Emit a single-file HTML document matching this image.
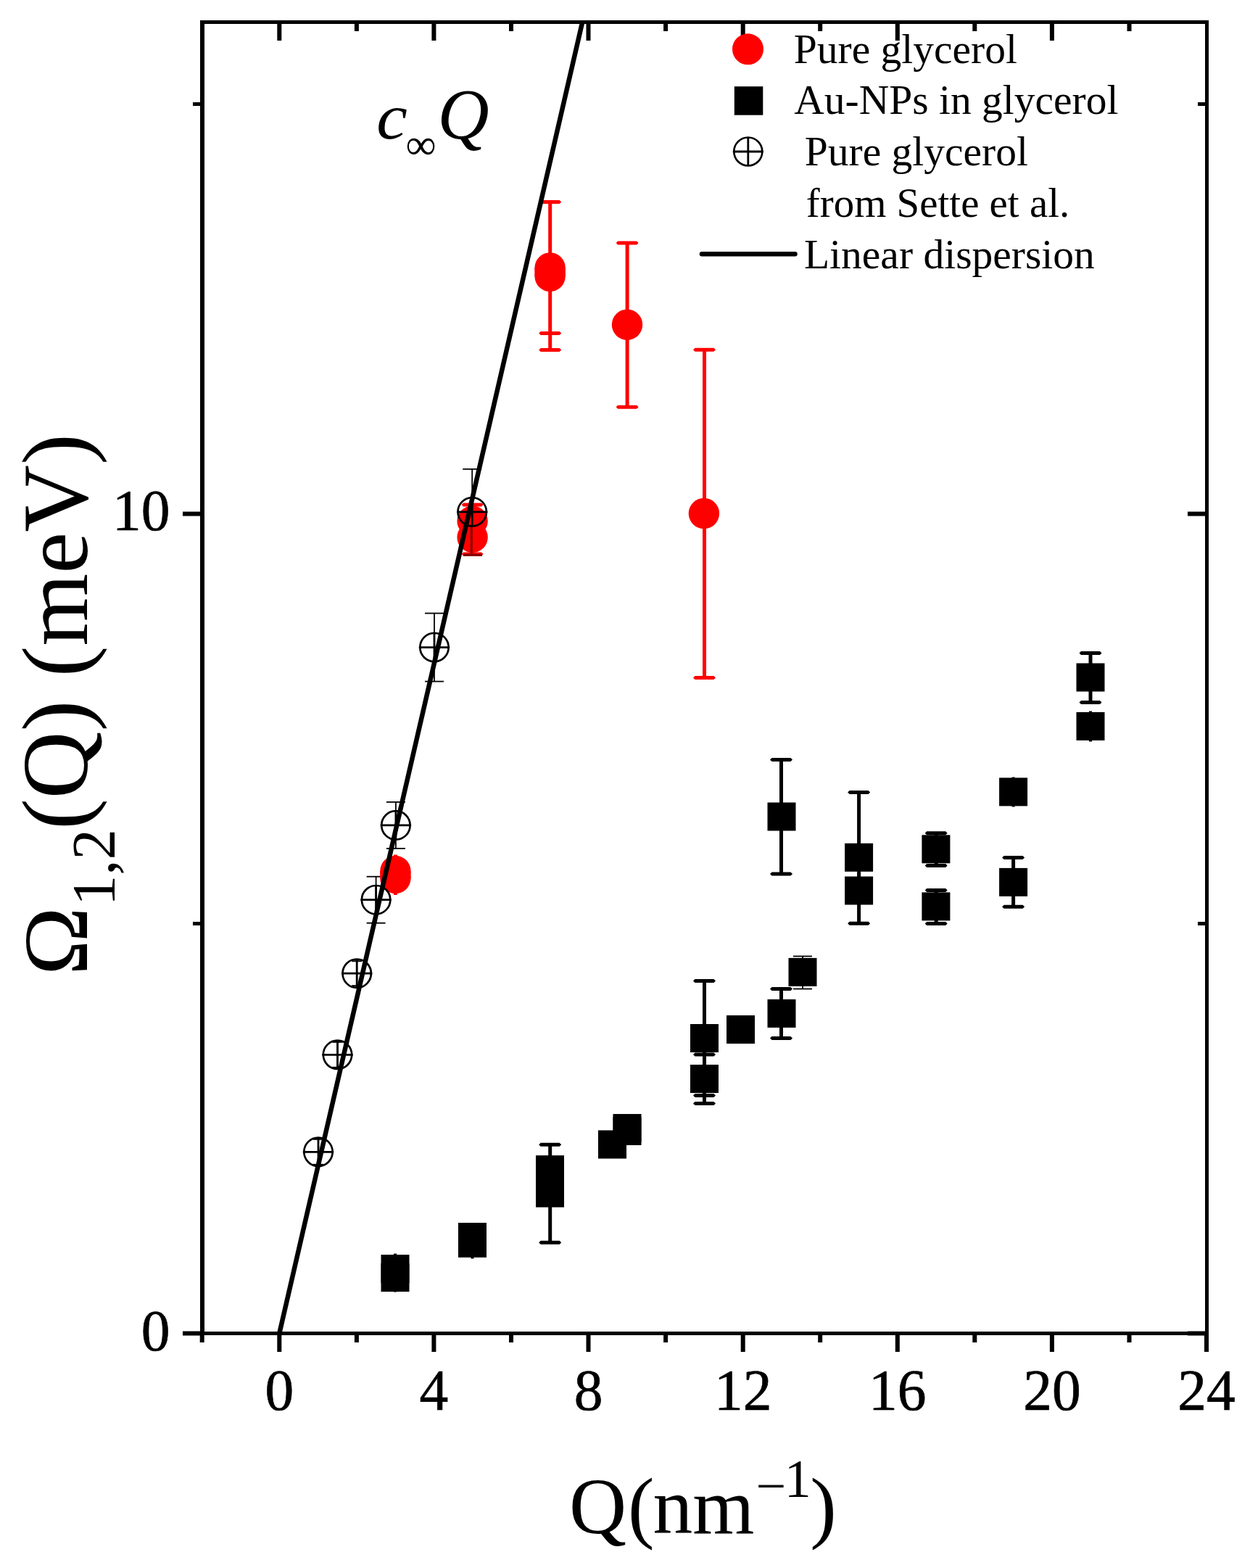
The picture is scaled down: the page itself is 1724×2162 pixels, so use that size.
<!DOCTYPE html>
<html><head><meta charset="utf-8"><title>Dispersion plot</title>
<style>html,body{margin:0;padding:0;background:#fff;}svg{display:block;}</style>
</head><body>
<svg width="1724" height="2162" viewBox="0 0 1724 2162">
<rect width="1724" height="2162" fill="#fff"/>
<rect x="276.0" y="28.0" width="1391.0" height="5.0" fill="#000"/>
<rect x="276.0" y="1836.0" width="1391.0" height="5.0" fill="#000"/>
<rect x="276.0" y="28.0" width="6.0" height="1813.0" fill="#000"/>
<rect x="1662.0" y="28.0" width="5.0" height="1813.0" fill="#000"/>
<rect x="275.7" y="1841.0" width="6.0" height="10.0" fill="#000"/>
<rect x="382.3" y="1841.0" width="6.0" height="23.0" fill="#000"/>
<rect x="382.3" y="33.0" width="6.0" height="23.0" fill="#000"/>
<rect x="488.9" y="1841.0" width="6.0" height="10.0" fill="#000"/>
<rect x="488.9" y="33.0" width="6.0" height="10.0" fill="#000"/>
<rect x="595.4" y="1841.0" width="6.0" height="23.0" fill="#000"/>
<rect x="595.4" y="33.0" width="6.0" height="23.0" fill="#000"/>
<rect x="702.0" y="1841.0" width="6.0" height="10.0" fill="#000"/>
<rect x="702.0" y="33.0" width="6.0" height="10.0" fill="#000"/>
<rect x="808.5" y="1841.0" width="6.0" height="23.0" fill="#000"/>
<rect x="808.5" y="33.0" width="6.0" height="23.0" fill="#000"/>
<rect x="915.1" y="1841.0" width="6.0" height="10.0" fill="#000"/>
<rect x="915.1" y="33.0" width="6.0" height="10.0" fill="#000"/>
<rect x="1021.7" y="1841.0" width="6.0" height="23.0" fill="#000"/>
<rect x="1021.7" y="33.0" width="6.0" height="23.0" fill="#000"/>
<rect x="1128.2" y="1841.0" width="6.0" height="10.0" fill="#000"/>
<rect x="1128.2" y="33.0" width="6.0" height="10.0" fill="#000"/>
<rect x="1234.8" y="1841.0" width="6.0" height="23.0" fill="#000"/>
<rect x="1234.8" y="33.0" width="6.0" height="23.0" fill="#000"/>
<rect x="1341.3" y="1841.0" width="6.0" height="10.0" fill="#000"/>
<rect x="1341.3" y="33.0" width="6.0" height="10.0" fill="#000"/>
<rect x="1447.9" y="1841.0" width="6.0" height="23.0" fill="#000"/>
<rect x="1447.9" y="33.0" width="6.0" height="23.0" fill="#000"/>
<rect x="1554.5" y="1841.0" width="6.0" height="10.0" fill="#000"/>
<rect x="1554.5" y="33.0" width="6.0" height="10.0" fill="#000"/>
<rect x="1661.0" y="1841.0" width="6.0" height="23.0" fill="#000"/>
<rect x="252.0" y="1835.5" width="24.0" height="6.0" fill="#000"/>
<rect x="1638.0" y="1835.5" width="24.0" height="6.0" fill="#000"/>
<rect x="266.0" y="1271.0" width="10.0" height="5.0" fill="#000"/>
<rect x="1652.0" y="1271.0" width="10.0" height="5.0" fill="#000"/>
<rect x="252.0" y="705.5" width="24.0" height="6.0" fill="#000"/>
<rect x="1638.0" y="705.5" width="24.0" height="6.0" fill="#000"/>
<rect x="266.0" y="141.0" width="10.0" height="5.0" fill="#000"/>
<rect x="1652.0" y="141.0" width="10.0" height="5.0" fill="#000"/>
<line x1="545.0" y1="1728.5" x2="545.0" y2="1781.5" stroke="#000" stroke-width="4"/>
<rect x="525.5" y="1730.0" width="39" height="39" fill="#000"/>
<rect x="525.5" y="1742.0" width="39" height="39" fill="#000"/>
<line x1="651.5" y1="1690.0" x2="651.5" y2="1735.5" stroke="#000" stroke-width="4"/>
<rect x="632.0" y="1686.0" width="39" height="39" fill="#000"/>
<rect x="632.0" y="1694.8" width="39" height="39" fill="#000"/>
<line x1="758.7" y1="1578.2" x2="758.7" y2="1713.3" stroke="#000" stroke-width="5"/>
<polygon points="743.2,1578.2 745.7,1575.7 771.7,1575.7 774.2,1578.2 771.7,1580.7 745.7,1580.7" fill="#000"/>
<polygon points="743.2,1713.3 745.7,1710.8 771.7,1710.8 774.2,1713.3 771.7,1715.8 745.7,1715.8" fill="#000"/>
<rect x="739.0" y="1593.1" width="39" height="39" fill="#000"/>
<rect x="739.0" y="1625.6" width="39" height="39" fill="#000"/>
<rect x="825.0" y="1558.5" width="39" height="39" fill="#000"/>
<rect x="845.5" y="1536.0" width="39" height="39" fill="#000"/>
<rect x="845.5" y="1540.0" width="39" height="39" fill="#000"/>
<line x1="971.5" y1="1352.4" x2="971.5" y2="1521.5" stroke="#000" stroke-width="5"/>
<polygon points="956.0,1352.4 958.5,1349.9 984.5,1349.9 987.0,1352.4 984.5,1354.9 958.5,1354.9" fill="#000"/>
<polygon points="956.0,1453.9 958.5,1451.4 984.5,1451.4 987.0,1453.9 984.5,1456.4 958.5,1456.4" fill="#000"/>
<polygon points="956.0,1510.5 958.5,1508.0 984.5,1508.0 987.0,1510.5 984.5,1513.0 958.5,1513.0" fill="#000"/>
<polygon points="956.0,1521.5 958.5,1519.0 984.5,1519.0 987.0,1521.5 984.5,1524.0 958.5,1524.0" fill="#000"/>
<rect x="952.0" y="1412.0" width="39" height="39" fill="#000"/>
<rect x="952.0" y="1468.0" width="39" height="39" fill="#000"/>
<rect x="1002.0" y="1400.0" width="39" height="39" fill="#000"/>
<line x1="1077.5" y1="1363.5" x2="1077.5" y2="1431.5" stroke="#000" stroke-width="5"/>
<polygon points="1062.0,1363.5 1064.5,1361.0 1090.5,1361.0 1093.0,1363.5 1090.5,1366.0 1064.5,1366.0" fill="#000"/>
<polygon points="1062.0,1431.5 1064.5,1429.0 1090.5,1429.0 1093.0,1431.5 1090.5,1434.0 1064.5,1434.0" fill="#000"/>
<rect x="1058.5" y="1377.9" width="39" height="39" fill="#000"/>
<line x1="1107.0" y1="1318.5" x2="1107.0" y2="1363.5" stroke="#000" stroke-width="1.8"/>
<line x1="1094.0" y1="1318.5" x2="1120.0" y2="1318.5" stroke="#000" stroke-width="1.8"/>
<line x1="1094.0" y1="1363.5" x2="1120.0" y2="1363.5" stroke="#000" stroke-width="1.8"/>
<rect x="1087.5" y="1320.9" width="39" height="39" fill="#000"/>
<line x1="1077.5" y1="1047.5" x2="1077.5" y2="1205.1" stroke="#000" stroke-width="5"/>
<polygon points="1062.0,1047.5 1064.5,1045.0 1090.5,1045.0 1093.0,1047.5 1090.5,1050.0 1064.5,1050.0" fill="#000"/>
<polygon points="1062.0,1205.1 1064.5,1202.6 1090.5,1202.6 1093.0,1205.1 1090.5,1207.6 1064.5,1207.6" fill="#000"/>
<rect x="1058.5" y="1106.5" width="39" height="39" fill="#000"/>
<line x1="1184.6" y1="1092.5" x2="1184.6" y2="1273.2" stroke="#000" stroke-width="5"/>
<polygon points="1169.1,1092.5 1171.6,1090.0 1197.6,1090.0 1200.1,1092.5 1197.6,1095.0 1171.6,1095.0" fill="#000"/>
<polygon points="1169.1,1273.2 1171.6,1270.7 1197.6,1270.7 1200.1,1273.2 1197.6,1275.7 1171.6,1275.7" fill="#000"/>
<rect x="1165.1" y="1162.8" width="39" height="39" fill="#000"/>
<rect x="1165.1" y="1208.5" width="39" height="39" fill="#000"/>
<line x1="1291.2" y1="1148.7" x2="1291.2" y2="1193.6" stroke="#000" stroke-width="5"/>
<polygon points="1275.7,1148.7 1278.2,1146.2 1304.2,1146.2 1306.7,1148.7 1304.2,1151.2 1278.2,1151.2" fill="#000"/>
<polygon points="1275.7,1193.6 1278.2,1191.1 1304.2,1191.1 1306.7,1193.6 1304.2,1196.1 1278.2,1196.1" fill="#000"/>
<rect x="1271.4" y="1151.3" width="39" height="39" fill="#000"/>
<line x1="1291.2" y1="1227.5" x2="1291.2" y2="1273.5" stroke="#000" stroke-width="5"/>
<polygon points="1275.7,1227.5 1278.2,1225.0 1304.2,1225.0 1306.7,1227.5 1304.2,1230.0 1278.2,1230.0" fill="#000"/>
<polygon points="1275.7,1273.5 1278.2,1271.0 1304.2,1271.0 1306.7,1273.5 1304.2,1276.0 1278.2,1276.0" fill="#000"/>
<rect x="1271.4" y="1230.4" width="39" height="39" fill="#000"/>
<line x1="1397.6" y1="1071.5" x2="1397.6" y2="1112.5" stroke="#000" stroke-width="4"/>
<rect x="1378.1" y="1072.4" width="39" height="39" fill="#000"/>
<line x1="1397.6" y1="1182.4" x2="1397.6" y2="1250.2" stroke="#000" stroke-width="5"/>
<polygon points="1382.1,1182.4 1384.6,1179.9 1410.6,1179.9 1413.1,1182.4 1410.6,1184.9 1384.6,1184.9" fill="#000"/>
<polygon points="1382.1,1250.2 1384.6,1247.7 1410.6,1247.7 1413.1,1250.2 1410.6,1252.7 1384.6,1252.7" fill="#000"/>
<rect x="1378.1" y="1196.9" width="39" height="39" fill="#000"/>
<line x1="1504.0" y1="900.6" x2="1504.0" y2="968.5" stroke="#000" stroke-width="5"/>
<polygon points="1488.5,900.6 1491.0,898.1 1517.0,898.1 1519.5,900.6 1517.0,903.1 1491.0,903.1" fill="#000"/>
<polygon points="1488.5,968.5 1491.0,966.0 1517.0,966.0 1519.5,968.5 1517.0,971.0 1491.0,971.0" fill="#000"/>
<rect x="1484.5" y="914.5" width="39" height="39" fill="#000"/>
<line x1="1504.0" y1="980.5" x2="1504.0" y2="1022.5" stroke="#000" stroke-width="4"/>
<rect x="1484.5" y="981.9" width="39" height="39" fill="#000"/>
<line x1="439.0" y1="1570.8" x2="439.0" y2="1605.8" stroke="#000" stroke-width="1.8"/>
<line x1="432.0" y1="1570.8" x2="446.0" y2="1570.8" stroke="#000" stroke-width="2"/>
<line x1="432.0" y1="1605.8" x2="446.0" y2="1605.8" stroke="#000" stroke-width="2"/>
<line x1="465.5" y1="1436.8" x2="465.5" y2="1471.8" stroke="#000" stroke-width="1.8"/>
<line x1="458.5" y1="1436.8" x2="472.5" y2="1436.8" stroke="#000" stroke-width="2"/>
<line x1="458.5" y1="1471.8" x2="472.5" y2="1471.8" stroke="#000" stroke-width="2"/>
<line x1="492.2" y1="1325.2" x2="492.2" y2="1359.2" stroke="#000" stroke-width="1.8"/>
<line x1="485.2" y1="1325.2" x2="499.2" y2="1325.2" stroke="#000" stroke-width="2"/>
<line x1="485.2" y1="1359.2" x2="499.2" y2="1359.2" stroke="#000" stroke-width="2"/>
<line x1="518.6" y1="1208.7" x2="518.6" y2="1272.7" stroke="#000" stroke-width="1.8"/>
<line x1="505.6" y1="1208.7" x2="531.6" y2="1208.7" stroke="#000" stroke-width="1.8"/>
<line x1="505.6" y1="1272.7" x2="531.6" y2="1272.7" stroke="#000" stroke-width="1.8"/>
<line x1="545.9" y1="1105.9" x2="545.9" y2="1169.9" stroke="#000" stroke-width="1.8"/>
<line x1="532.9" y1="1105.9" x2="558.9" y2="1105.9" stroke="#000" stroke-width="1.8"/>
<line x1="532.9" y1="1169.9" x2="558.9" y2="1169.9" stroke="#000" stroke-width="1.8"/>
<line x1="599.0" y1="845.6" x2="599.0" y2="939.6" stroke="#000" stroke-width="1.8"/>
<line x1="586.0" y1="845.6" x2="612.0" y2="845.6" stroke="#000" stroke-width="1.8"/>
<line x1="586.0" y1="939.6" x2="612.0" y2="939.6" stroke="#000" stroke-width="1.8"/>
<line x1="651.2" y1="646.8" x2="651.2" y2="764.8" stroke="#000" stroke-width="1.8"/>
<line x1="638.2" y1="646.8" x2="664.2" y2="646.8" stroke="#000" stroke-width="1.8"/>
<line x1="638.2" y1="764.8" x2="664.2" y2="764.8" stroke="#000" stroke-width="1.8"/>
<line x1="545.4" y1="1178.5" x2="545.4" y2="1234.0" stroke="#ff0000" stroke-width="5"/>
<circle cx="545.4" cy="1201.0" r="21.2" fill="#ff0000"/>
<circle cx="545.4" cy="1211.0" r="21.2" fill="#ff0000"/>
<rect x="524.2" y="1201.0" width="42.4" height="10.0" fill="#ff0000"/>
<line x1="651.6" y1="696.0" x2="651.6" y2="764.0" stroke="#ff0000" stroke-width="5"/>
<polygon points="636.6,696.0 639.1,693.5 664.1,693.5 666.6,696.0 664.1,698.5 639.1,698.5" fill="#ff0000"/>
<polygon points="636.6,764.0 639.1,761.5 664.1,761.5 666.6,764.0 664.1,766.5 639.1,766.5" fill="#ff0000"/>
<circle cx="651.6" cy="718.5" r="21.2" fill="#ff0000"/>
<circle cx="651.6" cy="740.8" r="21.2" fill="#ff0000"/>
<line x1="650.3" y1="726.0" x2="650.3" y2="764.0" stroke="#800000" stroke-width="2.9"/>
<line x1="639.0" y1="765.3" x2="665.0" y2="765.3" stroke="#800000" stroke-width="3"/>
<line x1="758.7" y1="278.5" x2="758.7" y2="459.6" stroke="#ff0000" stroke-width="5"/>
<polygon points="743.2,278.5 745.7,276.0 771.7,276.0 774.2,278.5 771.7,281.0 745.7,281.0" fill="#ff0000"/>
<polygon points="743.2,459.6 745.7,457.1 771.7,457.1 774.2,459.6 771.7,462.1 745.7,462.1" fill="#ff0000"/>
<polygon points="743.2,482.6 745.7,480.1 771.7,480.1 774.2,482.6 771.7,485.1 745.7,485.1" fill="#ff0000"/>
<line x1="758.7" y1="459.6" x2="758.7" y2="482.6" stroke="#ff0000" stroke-width="5"/>
<circle cx="758.6" cy="369.4" r="21.2" fill="#ff0000"/>
<circle cx="758.6" cy="380.8" r="21.2" fill="#ff0000"/>
<rect x="737.4" y="369.4" width="42.4" height="11.4" fill="#ff0000"/>
<line x1="865.1" y1="334.9" x2="865.1" y2="561.2" stroke="#ff0000" stroke-width="5"/>
<polygon points="849.6,334.9 852.1,332.4 878.1,332.4 880.6,334.9 878.1,337.4 852.1,337.4" fill="#ff0000"/>
<polygon points="849.6,561.2 852.1,558.7 878.1,558.7 880.6,561.2 878.1,563.7 852.1,563.7" fill="#ff0000"/>
<circle cx="865.0" cy="447.7" r="21.2" fill="#ff0000"/>
<line x1="971.5" y1="482.3" x2="971.5" y2="934.5" stroke="#ff0000" stroke-width="5"/>
<polygon points="956.0,482.3 958.5,479.8 984.5,479.8 987.0,482.3 984.5,484.8 958.5,484.8" fill="#ff0000"/>
<polygon points="956.0,934.5 958.5,932.0 984.5,932.0 987.0,934.5 984.5,937.0 958.5,937.0" fill="#ff0000"/>
<circle cx="970.9" cy="707.9" r="21.2" fill="#ff0000"/>
<circle cx="439.0" cy="1588.3" r="19.7" fill="none" stroke="#000" stroke-width="2.7"/>
<line x1="417.8" y1="1588.3" x2="460.2" y2="1588.3" stroke="#000" stroke-width="2.8"/>
<line x1="439.0" y1="1568.6" x2="439.0" y2="1608.0" stroke="#000" stroke-width="2.8"/>
<circle cx="465.5" cy="1454.3" r="19.7" fill="none" stroke="#000" stroke-width="2.7"/>
<line x1="444.3" y1="1454.3" x2="486.7" y2="1454.3" stroke="#000" stroke-width="2.8"/>
<line x1="465.5" y1="1434.6" x2="465.5" y2="1474.0" stroke="#000" stroke-width="2.8"/>
<circle cx="492.2" cy="1342.2" r="19.7" fill="none" stroke="#000" stroke-width="2.7"/>
<line x1="471.0" y1="1342.2" x2="513.4" y2="1342.2" stroke="#000" stroke-width="2.8"/>
<line x1="492.2" y1="1322.5" x2="492.2" y2="1361.9" stroke="#000" stroke-width="2.8"/>
<circle cx="518.6" cy="1240.7" r="19.7" fill="none" stroke="#000" stroke-width="2.7"/>
<line x1="497.4" y1="1240.7" x2="539.8" y2="1240.7" stroke="#000" stroke-width="2.8"/>
<line x1="518.6" y1="1221.0" x2="518.6" y2="1260.4" stroke="#000" stroke-width="2.8"/>
<circle cx="545.9" cy="1137.9" r="19.7" fill="none" stroke="#000" stroke-width="2.7"/>
<line x1="524.7" y1="1137.9" x2="567.1" y2="1137.9" stroke="#000" stroke-width="2.8"/>
<line x1="545.9" y1="1118.2" x2="545.9" y2="1157.6" stroke="#000" stroke-width="2.8"/>
<circle cx="599.0" cy="892.6" r="19.7" fill="none" stroke="#000" stroke-width="2.7"/>
<line x1="577.8" y1="892.6" x2="620.2" y2="892.6" stroke="#000" stroke-width="2.8"/>
<line x1="599.0" y1="872.9" x2="599.0" y2="912.3" stroke="#000" stroke-width="2.8"/>
<circle cx="651.2" cy="705.8" r="19.7" fill="none" stroke="#000" stroke-width="2.7"/>
<line x1="630.0" y1="705.8" x2="672.4" y2="705.8" stroke="#000" stroke-width="2.8"/>
<line x1="651.2" y1="686.1" x2="651.2" y2="725.5" stroke="#000" stroke-width="2.8"/>
<line x1="385.3" y1="1838.5" x2="803.2" y2="30.5" stroke="#000" stroke-width="6.5"/>
<circle cx="1031.5" cy="67.8" r="21.5" fill="#ff0000"/>
<rect x="1012.8" y="119.2" width="39.5" height="39.5" fill="#000"/>
<circle cx="1031.8" cy="209.0" r="19.5" fill="none" stroke="#000" stroke-width="2.6"/>
<line x1="1010.8" y1="209.0" x2="1052.8" y2="209.0" stroke="#000" stroke-width="2.8"/>
<line x1="1031.8" y1="189.5" x2="1031.8" y2="228.5" stroke="#000" stroke-width="2.8"/>
<line x1="968" y1="350.3" x2="1096.5" y2="350.3" stroke="#000" stroke-width="6.5" stroke-linecap="round"/>

<g style="font-family:'Liberation Serif','Times New Roman',serif" fill="#000">
  <g font-size="79.5" stroke="#000" stroke-width="0.7">
    <text x="234.5" y="731.1" text-anchor="end">10</text>
    <text x="234.5" y="1861.6" text-anchor="end">0</text>
  </g>
  <g font-size="79.5" text-anchor="middle" stroke="#000" stroke-width="0.7">
    <text x="385.3" y="1943.6">0</text><text x="598.4" y="1943.6">4</text><text x="811.5" y="1943.6">8</text><text x="1024.7" y="1943.6">12</text><text x="1237.8" y="1943.6">16</text><text x="1450.9" y="1943.6">20</text><text x="1664.0" y="1943.6">24</text>
  </g>
  <g font-size="57.5">
    <text x="1094.8" y="87.2">Pure glycerol</text>
    <text x="1095.3" y="157.4">Au-NPs in glycerol</text>
    <text x="1109.8" y="227.6">Pure glycerol</text>
    <text x="1111.8" y="299.1" textLength="363.4" lengthAdjust="spacingAndGlyphs">from Sette et al.</text>
    <text x="1109" y="369.7">Linear dispersion</text>
  </g>
  <text transform="translate(519.15,191.1) scale(1.09,1)" font-size="88" font-style="italic">c</text>
  <text x="559.4" y="219.4" font-size="59">∞</text>
  <text x="603.4" y="190.9" font-size="98.5" font-style="italic">Q</text>
  <text x="785" y="2113.8" font-size="109.5">Q<tspan dx="2">(</tspan><tspan dx="-2">nm</tspan><tspan font-size="74" dy="-40" dx="2">−</tspan><tspan font-size="74" dy="-10" dx="-2.5">1</tspan><tspan dy="50" dx="-1.4">)</tspan></text>
  <text transform="translate(119.5,1345) rotate(-90)" font-size="127.5">Ω<tspan font-size="85" x="95.8" dy="38.5">1,2</tspan><tspan font-size="128.5" x="201" dy="-38.5">(Q) (meV)</tspan></text>
</g>

</svg>
</body></html>
